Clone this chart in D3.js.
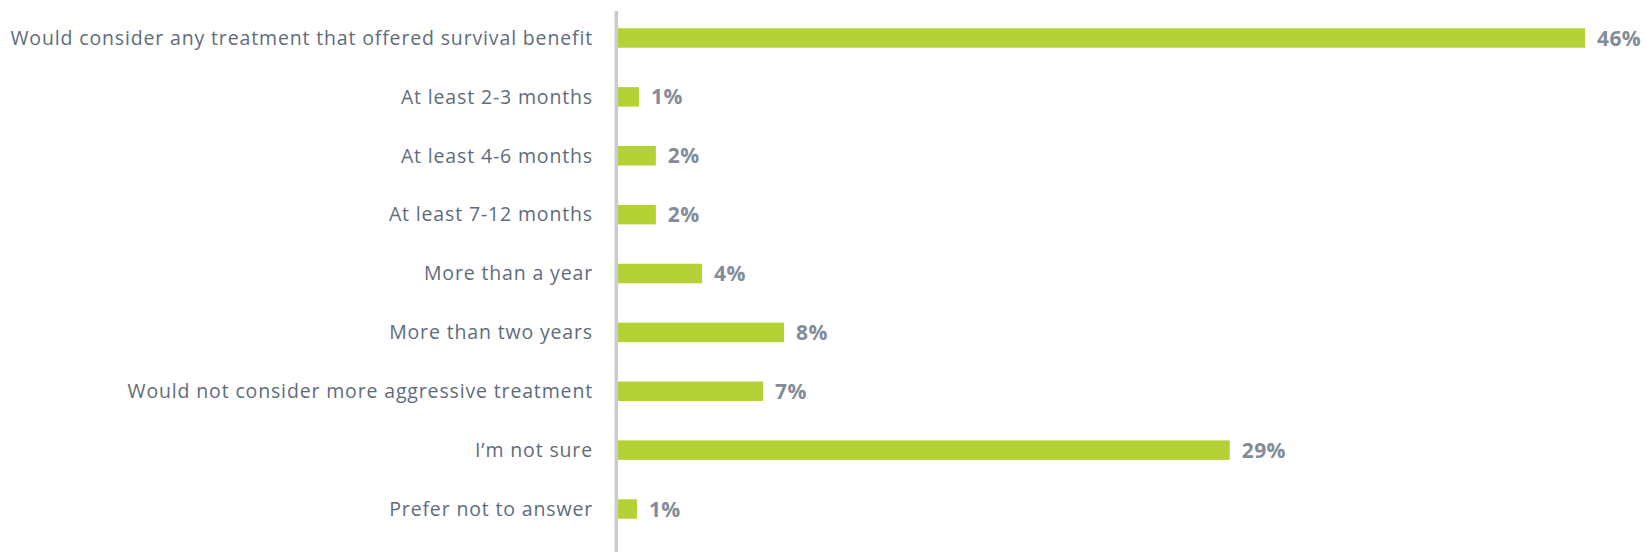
<!DOCTYPE html>
<html>
<head>
<meta charset="utf-8">
<script src="https://cdn.jsdelivr.net/npm/d3@7"></script>
<style>
  body { margin: 0; background: #fff; }
  svg { display: block; }
</style>
</head>
<body>
<div id="chart"></div>
<script>
const categories = [
    "Would consider any treatment that offered survival benefit",
    "At least 2-3 months",
    "At least 4-6 months",
    "At least 7-12 months",
    "More than a year",
    "More than two years",
    "Would not consider more aggressive treatment",
    "I\u2019m not sure",
    "Prefer not to answer"
];
const values = [46, 1.0, 1.8, 1.8, 4.0, 7.9, 6.9, 29.1, 0.9];
const valueLabels = ["46%", "1%", "2%", "2%", "4%", "8%", "7%", "29%", "1%"];

const width = 1645;
const height = 552;
const barHeight = 19.5;

const svg = d3.select("#chart")
    .append("svg")
    .attr("width", width)
    .attr("height", height);

const x = d3.scaleLinear()
    .domain([0, 46])
    .range([618, 1585]);

const y = d3.scalePoint()
    .domain(categories)
    .range([38, 509]);

// category labels
const yAxis = svg.append("g")
    .attr("transform", `translate(616,0)`)
    .call(d3.axisLeft(y).tickSize(0).tickPadding(23));

yAxis.select(".domain").remove();
yAxis.selectAll("text")
    .attr("fill", "#5f6c7b")
    .style("font-family", "'Open Sans', sans-serif")
    .style("font-weight", "500")
    .style("font-size", "19.5px")
    .style("letter-spacing", "0.85px");

// bars
svg.selectAll("rect.bar")
    .data(values)
    .join("rect")
    .attr("class", "bar")
    .attr("x", x(0))
    .attr("y", (d, i) => y(categories[i]) - barHeight / 2)
    .attr("width", d => x(d) - x(0))
    .attr("height", barHeight)
    .attr("fill", "#b4d235");

// value labels
svg.selectAll("text.val")
    .data(values)
    .join("text")
    .attr("class", "val")
    .attr("x", d => x(d) + 12)
    .attr("y", (d, i) => y(categories[i]))
    .attr("dy", "0.36em")
    .attr("fill", "#838c98")
    .style("font-family", "'Open Sans', sans-serif")
    .style("font-weight", "bold")
    .style("font-size", "21px")
    .style("letter-spacing", "0.4px")
    .text((d, i) => valueLabels[i]);

// vertical axis line
svg.append("line")
    .attr("x1", 616.3)
    .attr("x2", 616.3)
    .attr("y1", 11)
    .attr("y2", height)
    .attr("stroke", "#c9cad2")
    .attr("stroke-width", 3.5);
</script>
</body>
</html>
